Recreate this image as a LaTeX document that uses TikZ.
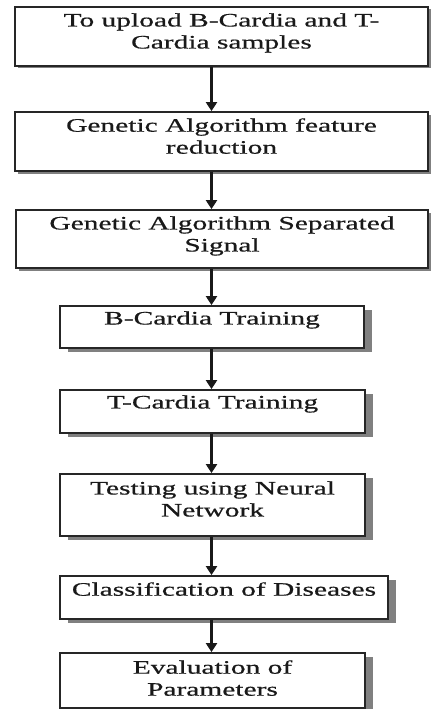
\documentclass[tikz,border=0pt]{standalone}
\usepackage{fontspec}
\newfontfamily\boxfont[FakeStretch=1.55,FakeBold=0.6]{Liberation Serif}
\usetikzlibrary{arrows.meta,shadows}

\begin{document}
\begin{tikzpicture}[x=1pt,y=-1pt,
  flowbox/.style={draw=black!85, line width=1.8pt, fill=white, inner sep=0pt},
  wideshadow/.style={drop shadow={shadow xshift=3pt, shadow yshift=-2.5pt, fill=black!50, opacity=1}},
  narrowshadow/.style={drop shadow={shadow xshift=8pt, shadow yshift=-4pt, fill=black!50, opacity=1}},
  steptext/.style={anchor=north, inner sep=0pt, align=center,
    font=\boxfont\fontsize{19}{22}\selectfont, text=black!90},
  flow/.style={line width=2.2pt, draw=black!90, -{Triangle[width=11pt,length=9pt]}}]

\useasboundingbox (0,0) rectangle (432,709);

% boxes of the flow
\node[flowbox, wideshadow, minimum width=413pt, minimum height=59pt] (b1) at (221.5,36.5) {};
\node[flowbox, wideshadow, minimum width=413pt, minimum height=59pt] (b2) at (221.5,141.5) {};
\node[flowbox, wideshadow, minimum width=412pt, minimum height=58pt] (b3) at (222,239) {};
\node[flowbox, narrowshadow, minimum width=304pt, minimum height=42pt] (b4) at (212,327) {};
\node[flowbox, narrowshadow, minimum width=305pt, minimum height=43pt] (b5) at (212.5,411.5) {};
\node[flowbox, narrowshadow, minimum width=305pt, minimum height=62pt] (b6) at (212.5,505) {};
\node[flowbox, narrowshadow, minimum width=328pt, minimum height=43pt] (b7) at (224,597.5) {};
\node[flowbox, narrowshadow, minimum width=305pt, minimum height=55pt] (b8) at (212.5,680.5) {};

% box captions, set from the top of each box
\node[steptext] (t1) at ([yshift=-7pt]b1.north) {To upload B-Cardia and T-\\Cardia samples};
\node[steptext] (t2) at ([yshift=-7pt]b2.north) {Genetic Algorithm feature\\reduction};
\node[steptext] (t3) at ([yshift=-7pt]b3.north) {Genetic Algorithm Separated\\Signal};
\node[steptext] (t4) at ([yshift=-6pt]b4.north) {B-Cardia Training};
\node[steptext] (t5) at ([yshift=-6pt]b5.north) {T-Cardia Training};
\node[steptext] (t6) at ([yshift=-8pt]b6.north) {Testing using Neural\\Network};
\node[steptext] (t7) at ([yshift=-7pt]b7.north) {Classification of Diseases};
\node[steptext] (t8) at ([yshift=-8pt]b8.north) {Evaluation of\\Parameters};

% vertical axis carrying all arrows
\coordinate (axis) at (211.5,0);
\foreach \a/\b in {b1/b2, b2/b3, b3/b4, b4/b5, b5/b6, b6/b7, b7/b8}
  \draw[flow] (\a.south -| axis) -- (\b.north -| axis);

\end{tikzpicture}
\end{document}
